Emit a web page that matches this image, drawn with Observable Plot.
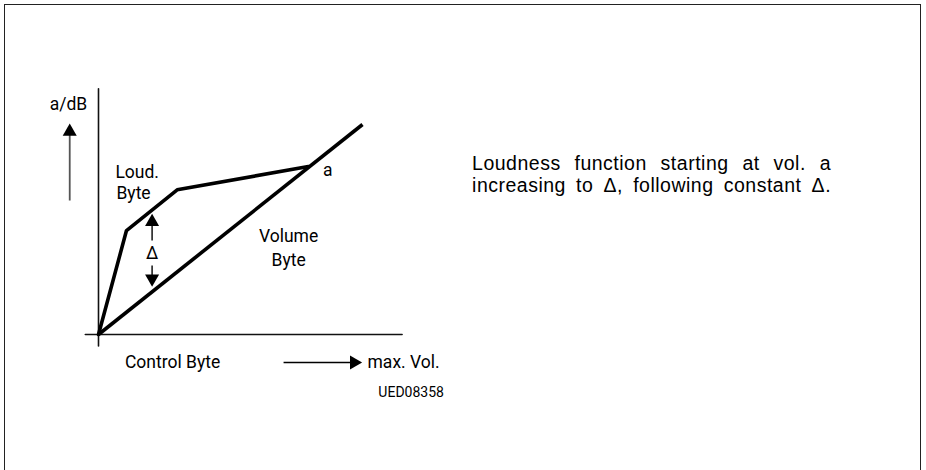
<!DOCTYPE html>
<html>
<head>
<meta charset="utf-8">
<script src="https://cdn.jsdelivr.net/npm/d3@7"></script>
<script src="https://cdn.jsdelivr.net/npm/@observablehq/plot@0.6"></script>
<style>
  html, body { margin: 0; padding: 0; background: #fff; }
  #wrap { position: relative; width: 926px; height: 470px; overflow: hidden; background: #fff; }
  #frame { position: absolute; left: 4px; top: 4px; width: 917px; height: 520px;
           border: 1.5px solid #222; box-sizing: border-box; }
  #chart { position: absolute; left: 0; top: 0; }
</style>
</head>
<body>
<div id="wrap"><div id="frame"></div><div id="chart"></div></div>
<script>
// Curve data (arbitrary units: control byte 0..100, level 0..100)
const loudX = [0, 10.6, 29.8, 79.5];
const loudY = [0, 49.5, 68.9, 80];
const volX = [0, 100];
const volY = [0, 100];

// Axes extents
const xAxisX = [-5, 115];
const yAxisY = [-5.5, 117];

// Arrow shafts: [x1, y1, x2, y2]
const shafts = [
  [-10.9, 63.8, -10.9, 95],   // a/dB arrow
  [20.3, 44.8, 20.3, 53.3],   // delta up
  [20.3, 32.9, 20.3, 26.8],   // delta down
  [70.1, -13.3, 96, -13.3]    // to max. Vol.
];
// Arrow heads: [x, y, rotate]
const heads = [
  [-10.9, 96.6, 0],
  [20.3, 53.6, 0],
  [20.3, 26.6, 180],
  [96.8, -13.3, 90]
];

// Diagram labels (start-anchored): [text, x, y]
const labelsStart = [
  ["Loud.", 6.4, 77.1],
  ["Byte", 6.8, 67.4],
  ["Control Byte", 10.0, -13.3],
  ["max. Vol.", 101.9, -13.3]
];
// Diagram labels (centred): [text, x, y]
const labelsMid = [
  ["a/dB", -11.4, 109.5],
  ["\u0394", 20.3, 38.6],
  ["a", 86.8, 78],
  ["Volume", 72, 46.7],
  ["Byte", 72, 35.4]
];
const codeLabel = ["UED08358", 106, -27.6];

// Description text lines
const descLines = ["Loudness function starting at vol. a", "increasing to \u0394, following constant \u0394."];
const descY = [81.5, 70.8];
const descX = 141.5;

const diagFont = "Roboto, 'DejaVu Sans', sans-serif";

const plot = Plot.plot({
  width: 926,
  height: 470,
  marginLeft: 98,
  marginRight: 564,
  marginTop: 124,
  marginBottom: 136,
  x: {domain: [0, 100], axis: null},
  y: {domain: [0, 100], axis: null},
  style: {background: "transparent", overflow: "visible"},
  marks: [
    // axes
    Plot.line(xAxisX.map(x => ({x, y: 0})), {x: "x", y: "y", stroke: "#111", strokeWidth: 1.6}),
    Plot.line(yAxisY.map(y => ({x: 0, y})), {x: "x", y: "y", stroke: "#111", strokeWidth: 1.6}),
    // curves
    Plot.line(volX.map((x, i) => ({x, y: volY[i]})), {x: "x", y: "y", stroke: "#000", strokeWidth: 3.6, strokeLinecap: "butt"}),
    Plot.line(loudX.map((x, i) => ({x, y: loudY[i]})), {x: "x", y: "y", stroke: "#000", strokeWidth: 3.6, strokeLinejoin: "miter"}),
    // arrows
    Plot.link(shafts.slice(0, 1), {x1: d => d[0], y1: d => d[1], x2: d => d[2], y2: d => d[3], stroke: "#555", strokeWidth: 1.8}),
    Plot.link(shafts.slice(1), {x1: d => d[0], y1: d => d[1], x2: d => d[2], y2: d => d[3], stroke: "#000", strokeWidth: 1.4}),
    Plot.dot(heads, {x: d => d[0], y: d => d[1], rotate: d => d[2], symbol: "triangle", r: 5.2, fill: "#000", stroke: "none"}),
    // labels
    Plot.text(labelsStart, {x: d => d[1], y: d => d[2], text: d => d[0], textAnchor: "start", fontSize: 17.5, fontFamily: diagFont, fill: "#000"}),
    Plot.text(labelsMid, {x: d => d[1], y: d => d[2], text: d => d[0], textAnchor: "middle", fontSize: 17.5, fontFamily: diagFont, fill: "#000"}),
    Plot.text([codeLabel], {x: d => d[1], y: d => d[2], text: d => d[0], textAnchor: "start", fontSize: 14, fontFamily: diagFont, fill: "#000"}),
    Plot.text(descLines, {x: descX, y: (d, i) => descY[i], text: d => d, textAnchor: "start", fontSize: 19.5, fontFamily: "'Liberation Sans', Arial, sans-serif", fill: "#000"})
  ]
});
document.getElementById("chart").appendChild(plot);

// justify the two description lines to equal width by widening word gaps
d3.select(plot).selectAll("text").filter(function() {
  return descLines.includes(this.textContent);
}).each(function() {
  this.style.letterSpacing = "0.5px";
  const len = this.getComputedTextLength();
  const gaps = (this.textContent.match(/ /g) || []).length;
  const extra = Math.max(0, (359 - len) / gaps);
  this.style.wordSpacing = extra + "px";
});
</script>
</body>
</html>
